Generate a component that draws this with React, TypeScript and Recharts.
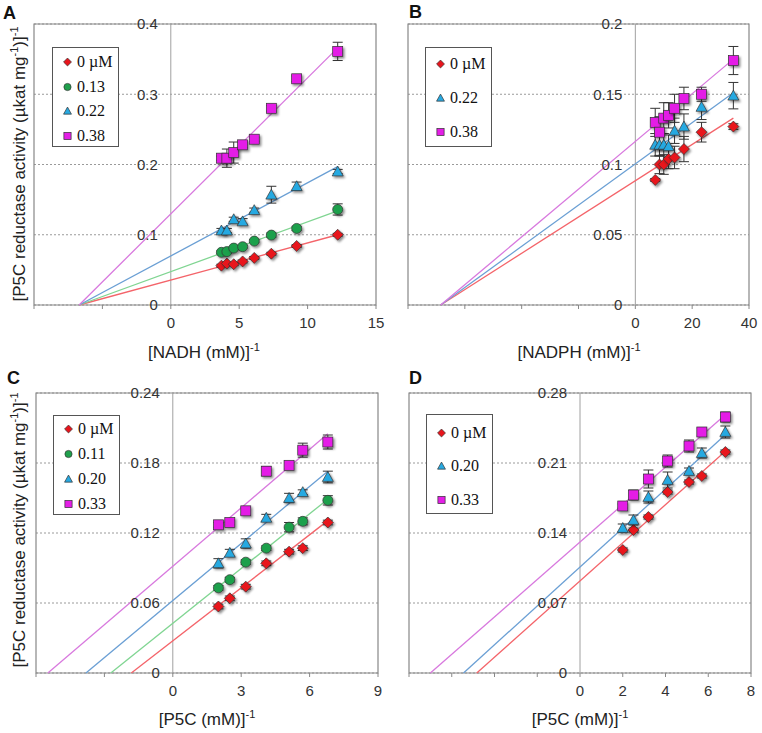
import React from 'react';
import { ErrorBar, ReferenceArea, ReferenceLine, Scatter, ScatterChart, XAxis, YAxis, CartesianGrid } from 'recharts';

// ---- panel A: NADH ----
const nadhX = [3.7, 4.1, 4.6, 5.25, 6.1, 7.35, 9.2, 12.2];
const nadh0 = [0.056, 0.059, 0.058, 0.062, 0.067, 0.073, 0.084, 0.1];
const nadh13 = [0.075, 0.076, 0.081, 0.083, 0.091, 0.0995, 0.109, 0.136];
const nadh22 = [0.106, 0.106, 0.122, 0.119, 0.135, 0.157, 0.169, 0.19];
const nadh38 = [0.209, 0.209, 0.217, 0.228, 0.236, 0.28, 0.322, 0.361];
const nadh0Err = [0.002, 0.002, 0.002, 0.002, 0.002, 0.002, 0.002, 0.002];
const nadh13Err = [0.002, 0.002, 0.002, 0.002, 0.002, 0.003, 0.003, 0.008];
const nadh22Err = [0.003, 0.003, 0.003, 0.004, 0.003, 0.012, 0.006, 0.003];
const nadh38Err = [0.003, 0.013, 0.015, 0.004, 0.003, 0.004, 0.004, 0.013];
const nadhFitStart = [-6.7, -6.7, -6.7, -6.7];
const nadhFitEnd = [0.1, 0.134, 0.197, 0.366];
const nadhFitEndX = 12.2;
const nadhXTicks = [-10, -5, 0, 5, 10, 15];
const nadhYTicks = [0, 0.1, 0.2, 0.3, 0.4];

// ---- panel B: NADPH ----
const nadphX = [7.0, 8.5, 10, 11.7, 13.8, 17.1, 23.3, 34.5];
const nadph0 = [0.089, 0.1, 0.1, 0.104, 0.105, 0.111, 0.123, 0.127];
const nadph22 = [0.114, 0.114, 0.114, 0.113, 0.124, 0.127, 0.141, 0.149];
const nadph38 = [0.13, 0.123, 0.133, 0.135, 0.14, 0.147, 0.15, 0.174];
const nadph0Err = [0.001, 0.0065, 0.007, 0.007, 0.008, 0.009, 0.007, 0.002];
const nadph22Err = [0.008, 0.008, 0.008, 0.008, 0.009, 0.009, 0.009, 0.0094];
const nadph38Err = [0.01, 0.011, 0.011, 0.009, 0.01, 0.008, 0.005, 0.01];
const nadphFitStart = [-68.5, -68.5, -68.5];
const nadphFitEnd = [0.133, 0.151, 0.175];
const nadphFitEndX = 34.5;
const nadphXTicks = [-80, -60, -40, -20, 0, 20, 40];
const nadphYTicks = [0, 0.05, 0.1, 0.15, 0.2];

// ---- panel C: P5C, NADH ----
const p5cX = [2.0, 2.5, 3.2, 4.1, 5.1, 5.7, 6.8];
const p5cC0 = [0.057, 0.064, 0.074, 0.094, 0.104, 0.107, 0.129];
const p5cC11 = [0.073, 0.08, 0.095, 0.107, 0.125, 0.13, 0.148];
const p5cC20 = [0.094, 0.103, 0.111, 0.133, 0.15, 0.155, 0.168];
const p5cC33 = [0.127, 0.129, 0.139, 0.173, 0.178, 0.191, 0.198];
const p5cC0Err = [0.002, 0.002, 0.002, 0.002, 0.002, 0.002, 0.002];
const p5cC11Err = [0.002, 0.002, 0.002, 0.002, 0.004, 0.003, 0.004];
const p5cC20Err = [0.004, 0.003, 0.004, 0.003, 0.004, 0.002, 0.005];
const p5cC33Err = [0.002, 0.002, 0.003, 0.004, 0.003, 0.006, 0.006];
const p5cCFitStart = [-1.82, -2.72, -3.81, -5.48];
const p5cCFitEnd = [0.1306, 0.149, 0.173, 0.205];
const p5cCXTicks = [-6, -3, 0, 3, 6, 9];
const p5cCYTicks = [0, 0.06, 0.12, 0.18, 0.24];

// ---- panel D: P5C, NADPH ----
const p5cD0 = [0.123, 0.143, 0.156, 0.181, 0.191, 0.197, 0.221];
const p5cD20 = [0.145, 0.153, 0.176, 0.193, 0.202, 0.22, 0.241];
const p5cD33 = [0.167, 0.178, 0.194, 0.212, 0.227, 0.241, 0.256];
const p5cD0Err = [0.002, 0.002, 0.002, 0.002, 0.002, 0.002, 0.002];
const p5cD20Err = [0.004, 0.005, 0.006, 0.008, 0.003, 0.005, 0.006];
const p5cD33Err = [0.002, 0.005, 0.009, 0.006, 0.006, 0.004, 0.005];
const p5cDFitStart = [-4.83, -5.45, -7.0];
const p5cDFitEnd = [0.2217, 0.2383, 0.2583];
const p5cFitEndX = 6.8;
const p5cDXTicks = [-8, -6, -4, -2, 0, 2, 4, 6, 8];
const p5cDYTicks = [0, 0.07, 0.14, 0.21, 0.28];

const STYLE = {
  red: { kind: 'diamond', fill: '#e8141c', line: '#f4646a' },
  green: { kind: 'circle', fill: '#1fa04c', line: '#80d592' },
  blue: { kind: 'triangle', fill: '#27a9e1', line: '#6a9fd4' },
  magenta: { kind: 'square', fill: '#e41ee6', line: '#d879de' },
};

const SANS = 'Arial, "Liberation Sans", sans-serif';
const SERIF = '"Times New Roman", "Liberation Serif", serif';

const rows = (xs: number[], ys: number[], es: number[]) => xs.map((x, i) => ({ x, y: ys[i], e: es[i] }));

function Marker({ kind, cx, cy, fill, s = 1, shadow = false }: any) {
  const common = { fill, stroke: '#333', strokeWidth: 0.7, filter: shadow ? 'url(#mkShadow)' : undefined };
  if (kind === 'diamond') {
    const r = 5.5 * s;
    return <polygon points={`${cx},${cy - r} ${cx + r},${cy} ${cx},${cy + r} ${cx - r},${cy}`} {...common} />;
  }
  if (kind === 'circle') return <circle cx={cx} cy={cy} r={5 * s} {...common} />;
  if (kind === 'triangle') {
    const r = 5.5 * s;
    return <polygon points={`${cx},${cy - r} ${cx + r},${cy + r * 0.8} ${cx - r},${cy + r * 0.8}`} {...common} />;
  }
  const h = 5 * s;
  return <rect x={cx - h} y={cy - h} width={2 * h} height={2 * h} {...common} />;
}

type Series = { name: string; color: keyof typeof STYLE; data: { x: number; y: number; e: number }[] };
type Fit = { color: keyof typeof STYLE; x0: number; x1: number; y1: number };

type PanelProps = {
  left: number; top: number; w: number; h: number;
  xTicks: number[]; yTicks: number[];
  series: Series[]; fits: Fit[];
};

function Panel({ left, top, w, h, xTicks, yTicks, series, fits }: PanelProps) {
  const xDomain = [xTicks[0], xTicks[xTicks.length - 1]];
  const yDomain = [yTicks[0], yTicks[yTicks.length - 1]];
  const zeroX = 40 + ((0 - xDomain[0]) / (xDomain[1] - xDomain[0])) * w;
  const axisY = 10 + h;
  return (
    <div style={{ position: 'absolute', left: left - 40, top: top - 10 }}>
      <ScatterChart width={w + 50} height={h + 60} margin={{ top: 10, left: 20, right: 10, bottom: 20 }}>
        <CartesianGrid vertical={false} stroke="#9a9a9a" strokeDasharray="2 2" />
        <XAxis
          type="number" dataKey="x" domain={xDomain} ticks={xTicks} interval={0} allowDataOverflow
          height={30} axisLine={false} tickLine={false}
          tick={(p: any) => (
            <g>
              <line x1={p.x} x2={p.x} y1={axisY} y2={axisY + 4} stroke="#888" />
              {p.payload.value >= 0 && (
                <text x={p.x} y={axisY + 23} textAnchor="middle" fontSize={15} fontFamily={SANS} fill="#333">
                  {p.payload.value}
                </text>
              )}
            </g>
          )}
        />
        <YAxis
          type="number" dataKey="y" domain={yDomain} ticks={yTicks} interval={0} allowDataOverflow
          width={20} axisLine={false} tickLine={false}
          tick={(p: any) => (
            <text x={zeroX - 13} y={p.y} dy="0.36em" textAnchor="end" fontSize={15} fontFamily={SANS} fill="#333">
              {String(p.payload.value)}
            </text>
          )}
        />
        <ReferenceArea x1={xDomain[0]} x2={xDomain[1]} y1={yDomain[0]} y2={yDomain[1]} fill="none" fillOpacity={0} stroke="#888" strokeWidth={1.2} ifOverflow="visible" />
        <ReferenceLine x={0} stroke="#a0a0a0" strokeWidth={1} />
        {fits.map((f, i) => (
          <ReferenceLine
            key={'fit' + i}
            segment={[{ x: f.x0, y: 0 }, { x: f.x1, y: f.y1 }]}
            stroke={STYLE[f.color].line}
            strokeWidth={1.3}
            ifOverflow="visible"
          />
        ))}
        {series.map((s) => (
          <Scatter
            key={s.name}
            name={s.name}
            data={s.data}
            isAnimationActive={false}
            shape={(p: any) => <Marker kind={STYLE[s.color].kind} cx={p.cx} cy={p.cy} fill={STYLE[s.color].fill} shadow />}
          >
            <ErrorBar dataKey="e" direction="y" width={5} stroke="#333" strokeWidth={1} />
          </Scatter>
        ))}
      </ScatterChart>
    </div>
  );
}

function LegendBox({ left, top, first, gap, series }: { left: number; top: number; first: number; gap: number; series: Series[] }) {
  return (
    <div style={{ position: 'absolute', left, top, width: 67, height: 100, border: '1.3px solid #555', boxSizing: 'border-box', background: '#fff' }}>
      {series.map((s, i) => (
        <div key={s.name} style={{ position: 'absolute', left: 0, top: first + i * gap - 10, height: 20, display: 'flex', alignItems: 'center' }}>
          <svg width={24} height={20} style={{ display: 'block' }}>
            <Marker kind={STYLE[s.color].kind} cx={14.5} cy={10} fill={STYLE[s.color].fill} s={0.72} />
          </svg>
          <span style={{ fontFamily: SERIF, fontSize: 16, color: '#111', lineHeight: '20px' }}>{s.name}</span>
        </div>
      ))}
    </div>
  );
}

function Title({ x, y, label }: { x: number; y: number; label: string }) {
  return (
    <div style={{ position: 'absolute', left: x - 150, top: y - 16, width: 300, textAlign: 'center', fontFamily: SANS, fontSize: 17, lineHeight: '20px', color: '#222' }}>
      {label}
      <sup style={{ fontSize: 11 }}>-1</sup>
    </div>
  );
}

function YTitle({ cx, cy }: { cx: number; cy: number }) {
  return (
    <div style={{ position: 'absolute', left: cx - 170, top: cy - 10, width: 340, height: 20, transform: 'rotate(-90deg)', textAlign: 'center', fontFamily: SANS, fontSize: 17, lineHeight: '20px', color: '#222', whiteSpace: 'nowrap' }}>
      [P5C reductase activity (µkat mg<sup style={{ fontSize: 11 }}>-1</sup>)]<sup style={{ fontSize: 11 }}>-1</sup>
    </div>
  );
}

function Letter({ x, y, t }: { x: number; y: number; t: string }) {
  return <div style={{ position: 'absolute', left: x, top: y - 17, fontFamily: SANS, fontWeight: 700, fontSize: 18, lineHeight: '21px', color: '#111' }}>{t}</div>;
}

export default function App() {
  const seriesA: Series[] = [
    { name: '0 µM', color: 'red', data: rows(nadhX, nadh0, nadh0Err) },
    { name: '0.13', color: 'green', data: rows(nadhX, nadh13, nadh13Err) },
    { name: '0.22', color: 'blue', data: rows(nadhX, nadh22, nadh22Err) },
    { name: '0.38', color: 'magenta', data: rows(nadhX, nadh38, nadh38Err) },
  ];
  const seriesB: Series[] = [
    { name: '0 µM', color: 'red', data: rows(nadphX, nadph0, nadph0Err) },
    { name: '0.22', color: 'blue', data: rows(nadphX, nadph22, nadph22Err) },
    { name: '0.38', color: 'magenta', data: rows(nadphX, nadph38, nadph38Err) },
  ];
  const seriesC: Series[] = [
    { name: '0 µM', color: 'red', data: rows(p5cX, p5cC0, p5cC0Err) },
    { name: '0.11', color: 'green', data: rows(p5cX, p5cC11, p5cC11Err) },
    { name: '0.20', color: 'blue', data: rows(p5cX, p5cC20, p5cC20Err) },
    { name: '0.33', color: 'magenta', data: rows(p5cX, p5cC33, p5cC33Err) },
  ];
  const seriesD: Series[] = [
    { name: '0 µM', color: 'red', data: rows(p5cX, p5cD0, p5cD0Err) },
    { name: '0.20', color: 'blue', data: rows(p5cX, p5cD20, p5cD20Err) },
    { name: '0.33', color: 'magenta', data: rows(p5cX, p5cD33, p5cD33Err) },
  ];
  const fitsOf = (ss: Series[], starts: number[], ends: number[], endX: number): Fit[] =>
    ss.map((s, i) => ({ color: s.color, x0: starts[i], x1: endX, y1: ends[i] }));

  return (
    <div style={{ position: 'absolute', left: 0, top: 0, width: 762, height: 733, background: '#fff', overflow: 'hidden' }}>
      <svg width={0} height={0} style={{ position: 'absolute' }}>
        <defs>
          <filter id="mkShadow" x="-60%" y="-60%" width="220%" height="220%">
            <feDropShadow dx={1.6} dy={1.8} stdDeviation={1} floodColor="#000" floodOpacity={0.45} />
          </filter>
        </defs>
      </svg>
      <Panel left={34} top={24} w={342} h={281} xTicks={nadhXTicks} yTicks={nadhYTicks} series={seriesA} fits={fitsOf(seriesA, nadhFitStart, nadhFitEnd, nadhFitEndX)} />
      <Panel left={408} top={24} w={341} h={281} xTicks={nadphXTicks} yTicks={nadphYTicks} series={seriesB} fits={fitsOf(seriesB, nadphFitStart, nadphFitEnd, nadphFitEndX)} />
      <Panel left={36} top={393} w={342} h={280} xTicks={p5cCXTicks} yTicks={p5cCYTicks} series={seriesC} fits={fitsOf(seriesC, p5cCFitStart, p5cCFitEnd, p5cFitEndX)} />
      <Panel left={409} top={393} w={342} h={280} xTicks={p5cDXTicks} yTicks={p5cDYTicks} series={seriesD} fits={fitsOf(seriesD, p5cDFitStart, p5cDFitEnd, p5cFitEndX)} />

      <LegendBox left={52} top={47} first={13.7} gap={24.8} series={seriesA} />
      <LegendBox left={425} top={47} first={16.3} gap={33.8} series={seriesB} />
      <LegendBox left={53} top={415} first={13.3} gap={25} series={seriesC} />
      <LegendBox left={426} top={414} first={17.7} gap={33.7} series={seriesD} />

      <Title x={204} y={353} label="[NADH (mM)]" />
      <Title x={579} y={353} label="[NADPH (mM)]" />
      <Title x={207} y={720} label="[P5C (mM)]" />
      <Title x={580} y={720} label="[P5C (mM)]" />
      <YTitle cx={14} cy={164} />
      <YTitle cx={14} cy={530} />

      <Letter x={3} y={20} t="A" />
      <Letter x={409} y={19} t="B" />
      <Letter x={7} y={385} t="C" />
      <Letter x={409} y={385} t="D" />
    </div>
  );
}
